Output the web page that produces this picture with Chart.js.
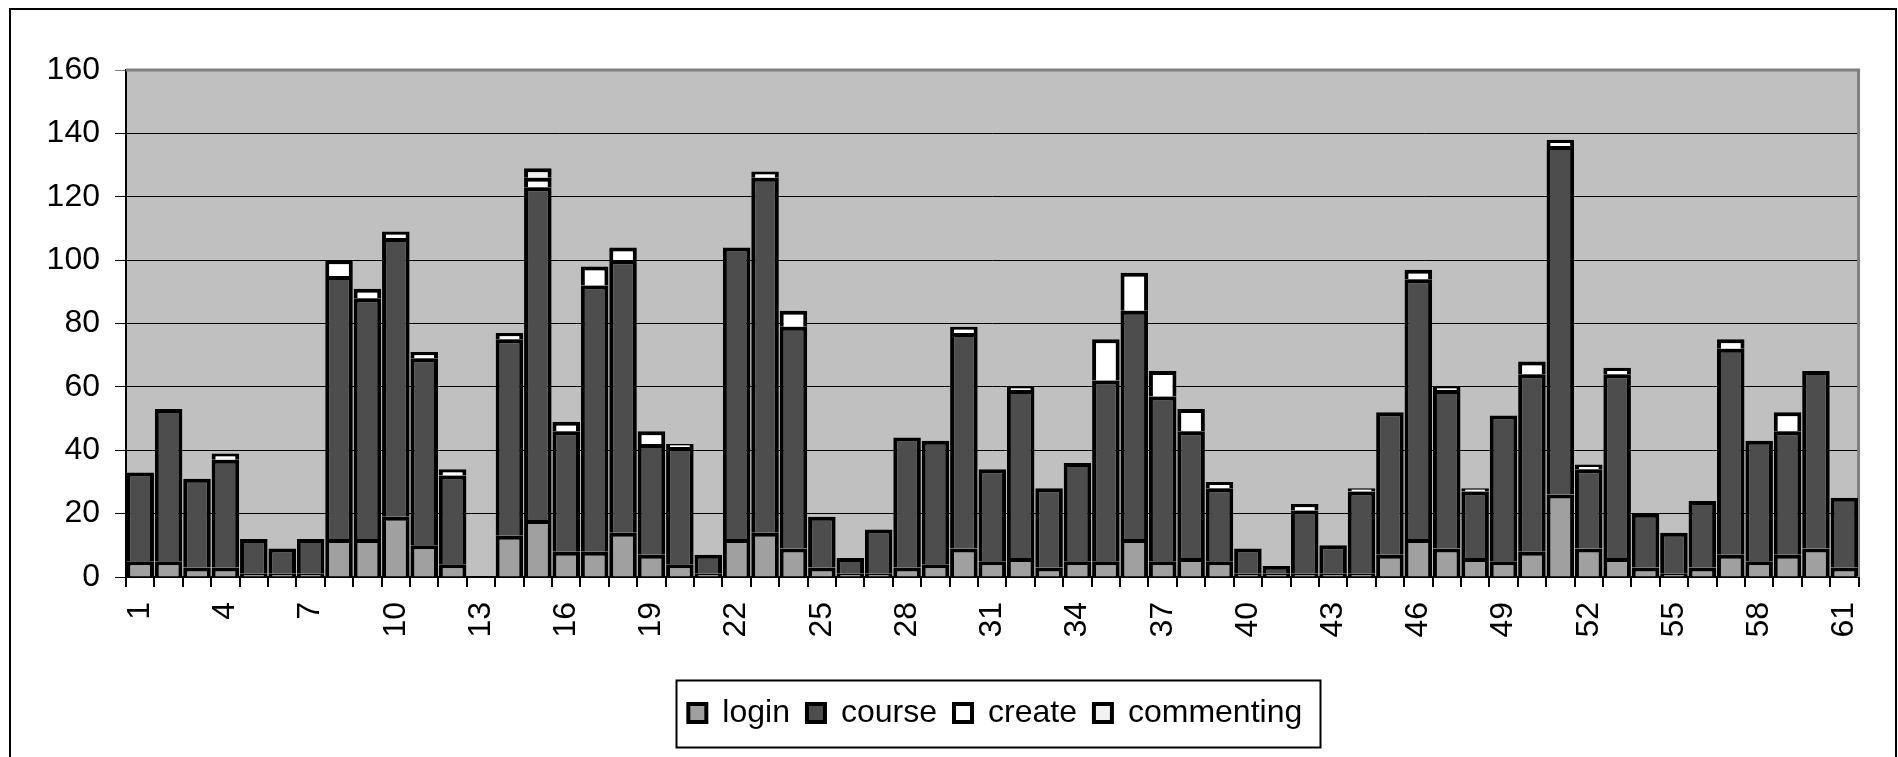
<!DOCTYPE html>
<html>
<head>
<meta charset="utf-8">
<script src="https://cdn.jsdelivr.net/npm/chart.js@4/dist/chart.umd.min.js"></script>
<style>
  html, body { margin: 0; padding: 0; background: #ffffff; }
  #wrap { position: relative; width: 1898px; height: 757px; overflow: hidden; }
  canvas { position: absolute; left: 0; top: 0; }
</style>
</head>
<body>
<div id="wrap"><canvas id="c" width="1898" height="757"></canvas></div>
<script>
const categories = ["1","2","3","4","5","6","7","8","9","10","11","12","13","14","15","16","17","18","19","20",
  "21","22","23","24","25","26","27","28","29","30","31","32","33","34","35","36","37","38","39","40",
  "41","42","43","44","45","46","47","48","49","50","51","52","53","54","55","56","57","58","59","60","61"];

const login = [5,5,3,3,1,1,1,12,12,19, 10,4,0,13,18,8,8,14,7,4,
  1,12,14,9,3,1,1,3,4,9, 5,6,3,5,5,12,5,6,5,1,
  1,1,1,1,7,12,9,6,5,8, 26,9,6,3,1,3,7,5,7,9, 3];

const course = [28,48,28,34,11,8,11,83,76,88, 59,28,0,62,105,38,84,86,35,37,
  6,92,112,70,16,5,14,41,39,68, 29,53,25,31,57,72,52,40,23,8,
  2.5,20,9,26,45,82,50,21,46,56, 110,25,58,17,13,21,65,38,39,56, 22];

const create = [0,0,0,2,0,0,0,5,3,2, 2,2,0,2,3,3,6,4,4,1,
  0,0,2,5,0,0,0,0,0,2, 0,1,0,0,13,12,8,7,2,0,
  0,2,0,1,0,3,1,1,0,4, 2,1.5,2,0,0,0,3,0,6,0, 0];

const commenting = [0,0,0,0,0,0,0,0,0,0, 0,0,0,0,3,0,0,0,0,0,
  0,0,0,0,0,0,0,0,0,0, 0,0,0,0,0,0,0,0,0,0,
  0,0,0,0,0,0,0,0,0,0, 0,0,0,0,0,0,0,0,0,0, 0];

const yTicks = { min: 0, max: 160, step: 20 };
const FONT = "'Liberation Sans', Arial, Helvetica, sans-serif";

Chart.defaults.font.family = FONT;
Chart.defaults.font.size = 32;
Chart.defaults.color = '#000000';

const decor = {
  id: 'decor',
  beforeDraw(chart) {
    const ctx = chart.ctx, a = chart.chartArea;
    ctx.save();
    ctx.fillStyle = '#c0c0c0';
    ctx.fillRect(a.left, a.top, a.right - a.left, a.bottom - a.top);
    ctx.restore();
    const lg = chart.legend;
    if (lg) { lg.left = a.left; lg.right = a.right + 6; }
  },
  beforeDatasetsDraw(chart) {
    const ctx = chart.ctx, a = chart.chartArea;
    ctx.save();
    ctx.strokeStyle = '#808080';
    ctx.lineWidth = 3;
    ctx.beginPath();
    ctx.moveTo(a.left, a.top);
    ctx.lineTo(a.right, a.top);
    ctx.lineTo(a.right, a.bottom);
    ctx.stroke();
    ctx.restore();
  },
  afterDraw(chart) {
    const ctx = chart.ctx;
    const lg = chart.legend;
    ctx.save();
    ctx.strokeStyle = '#000000';
    ctx.lineWidth = 2;
    // outer chart frame
    ctx.strokeRect(10, 9, 1886, 900);
    if (lg && lg.lineWidths) {
      const pad = lg.options.labels.padding;
      const rowW = lg.lineWidths[0] - pad;
      const cx = (lg.left + lg.right) / 2;
      const cy = lg.top + pad + 16;
      const x0 = cx - rowW / 2 - 12;
      const x1 = cx + rowW / 2 + 18;
      ctx.strokeRect(Math.round(x0) + 0.5, Math.round(cy - 33) + 0.5, Math.round(x1 - x0), 67);
    }
    ctx.restore();
  }
};

const mk = (label, data, color) => ({
  label, data,
  backgroundColor: color,
  borderColor: '#000000',
  borderWidth: 4,
  categoryPercentage: 0.97,
  barPercentage: 1.0
});

new Chart(document.getElementById('c'), {
  type: 'bar',
  data: {
    labels: categories,
    datasets: [
      mk('login', login, '#a0a0a0'),
      mk('course', course, '#4d4d4d'),
      mk('create', create, '#ffffff'),
      mk('commenting', commenting, '#f2f2f2')
    ]
  },
  options: {
    responsive: false,
    animation: false,
    devicePixelRatio: 1,
    layout: { padding: { top: 70, right: 30, bottom: 18, left: 0 } },
    plugins: {
      tooltip: { enabled: false },
      legend: {
        position: 'bottom',
        labels: {
          boxWidth: 18,
          boxHeight: 18,
          padding: 17,
          color: '#000000',
          font: { size: 32, family: FONT }
        }
      }
    },
    scales: {
      x: {
        stacked: true,
        offset: true,
        grid: { display: true, drawOnChartArea: false, drawTicks: true, tickLength: 10, color: '#000000', lineWidth: 2, offset: true },
        border: { display: true, color: '#000000', width: 2 },
        ticks: {
          autoSkip: false,
          maxRotation: 90,
          minRotation: 90,
          padding: 15,
          color: '#000000',
          font: { size: 32, family: FONT },
          callback: function(val, idx) { return idx % 3 === 0 ? categories[idx] : ''; }
        },
        afterFit(scale) { scale.height = 103; }
      },
      y: {
        stacked: true,
        min: yTicks.min,
        max: yTicks.max,
        grid: {
          color: (c) => (c.tick && c.tick.value === yTicks.max) ? '#808080' : '#000000',
          lineWidth: 1,
          tickLength: 11,
          drawTicks: true
        },
        border: { display: true, color: '#000000', width: 2 },
        ticks: {
          stepSize: yTicks.step,
          padding: 15,
          color: '#000000',
          font: { size: 32, family: FONT }
        },
        afterFit(scale) { scale.width = 126; }
      }
    }
  },
  plugins: [decor]
});
</script>
</body>
</html>
